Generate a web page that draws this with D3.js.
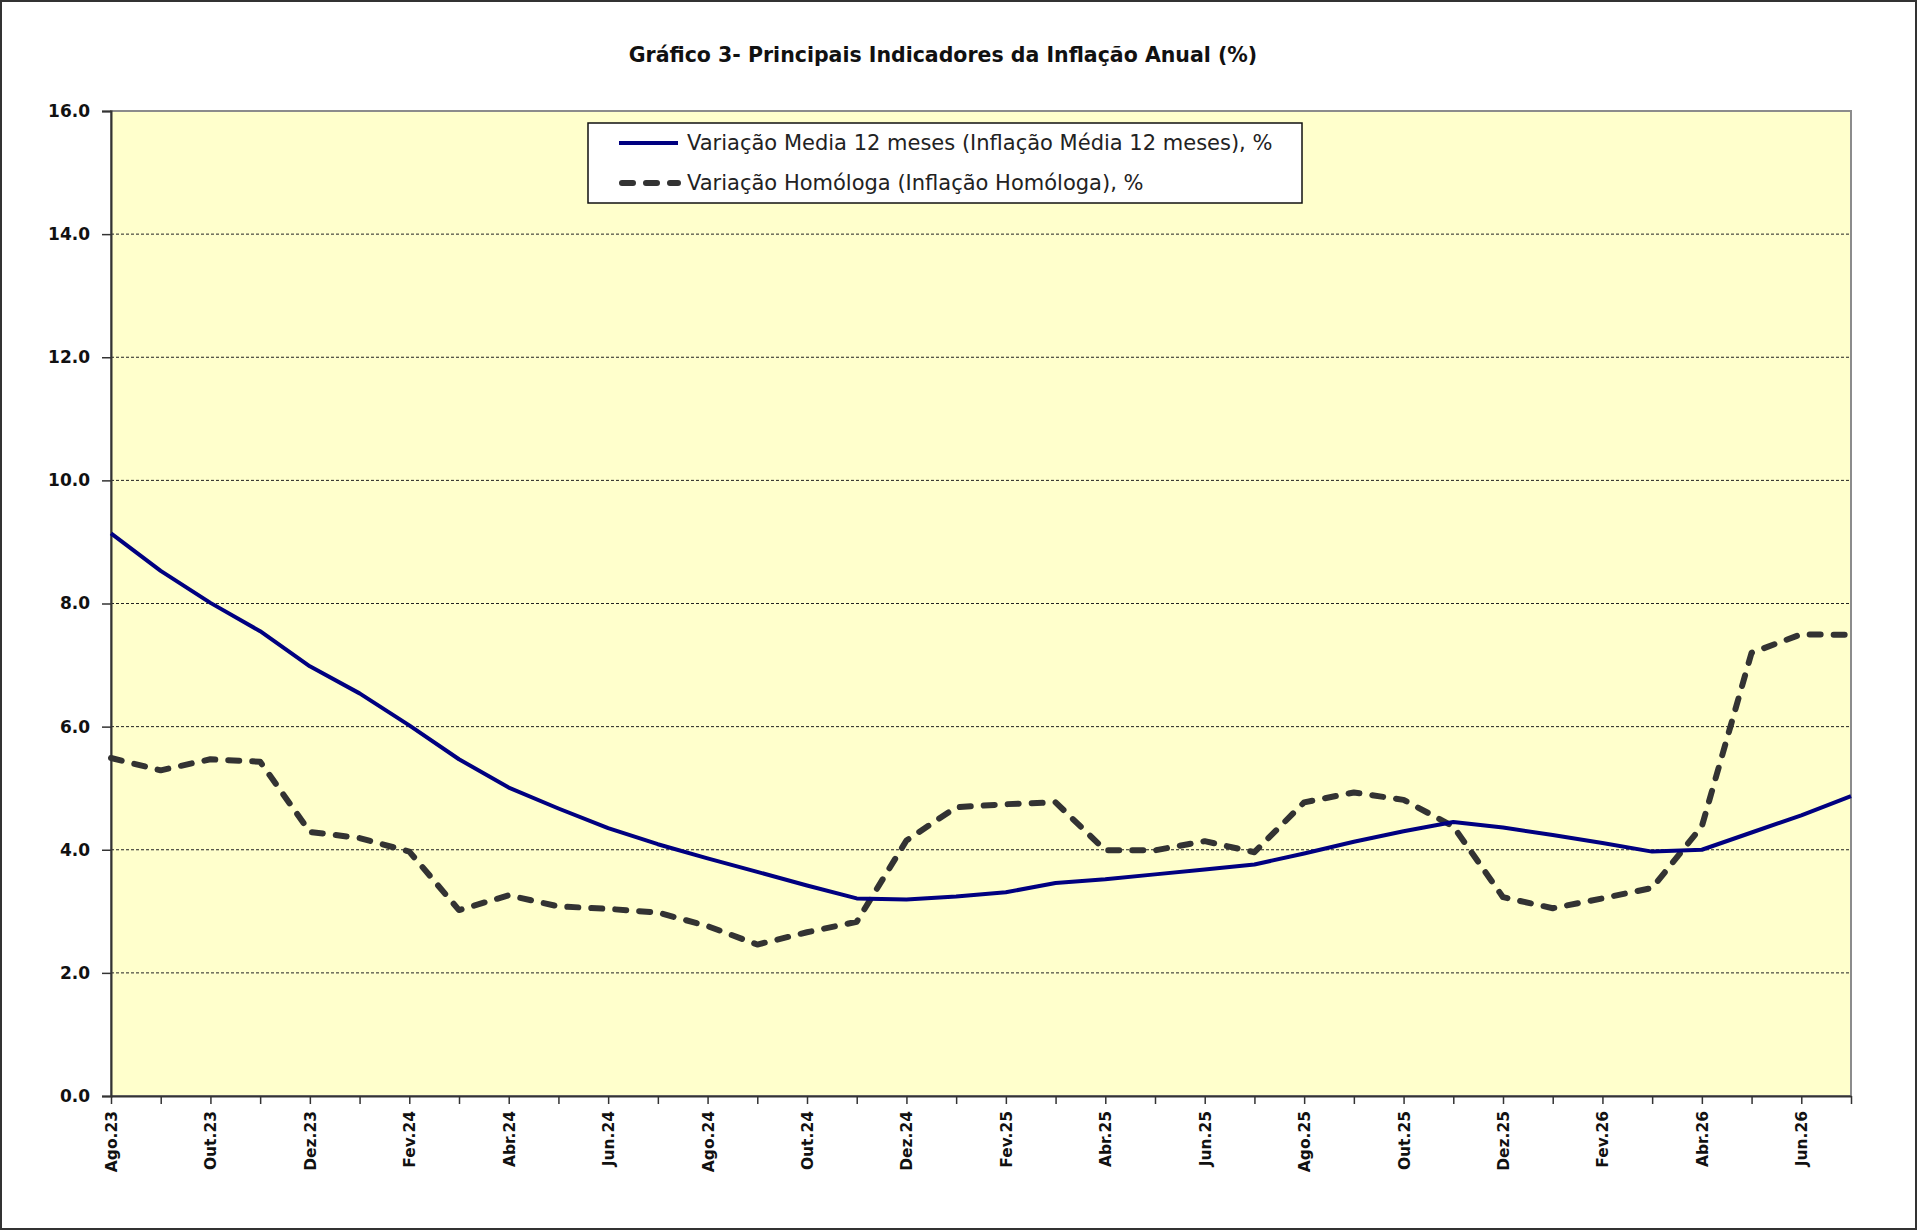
<!DOCTYPE html>
<html>
<head>
<meta charset="utf-8">
<script src="https://cdn.jsdelivr.net/npm/d3@7"></script>
<style>
  body { margin: 0; background: #fff; }
  svg { display: block; }
</style>
</head>
<body>
<svg></svg>
<script>
// data
const months = ['Ago.23','Set.23','Out.23','Nov.23','Dez.23','Jan.24','Fev.24','Mar.24','Abr.24','Mai.24','Jun.24','Jul.24',
  'Ago.24','Set.24','Out.24','Nov.24','Dez.24','Jan.25','Fev.25','Mar.25','Abr.25','Mai.25','Jun.25','Jul.25',
  'Ago.25','Set.25','Out.25','Nov.25','Dez.25','Jan.26','Fev.26','Mar.26','Abr.26','Mai.26','Jun.26','Jul.26']

const mediaValues = [9.14, 8.53, 8.01, 7.55, 6.98, 6.54, 6.02, 5.47, 5.01, 4.67, 4.35, 4.09,
  3.86, 3.64, 3.42, 3.21, 3.19, 3.24, 3.31, 3.46, 3.52, 3.60, 3.68, 3.76,
  3.94, 4.13, 4.30, 4.45, 4.36, 4.24, 4.11, 3.97, 4.00, 4.28, 4.56, 4.87]

const homologaValues = [5.49, 5.29, 5.47, 5.43, 4.29, 4.19, 3.97, 3.02, 3.26, 3.08, 3.04, 2.98,
  2.76, 2.46, 2.66, 2.83, 4.15, 4.69, 4.74, 4.77, 3.99, 3.99, 4.14, 3.96,
  4.77, 4.93, 4.81, 4.38, 3.23, 3.05, 3.21, 3.38, 4.38, 7.20, 7.50, 7.49]

const yTicks = [0, 2, 4, 6, 8, 10, 12, 14, 16]

const seriesNames = ['Variação Media 12 meses (Inflação Média 12 meses), %',
  'Variação Homóloga (Inflação Homóloga), %']

const title = 'Gráfico 3- Principais Indicadores da Inflação Anual (%)'

let w = 1918
let h = 1231
let pLeft = 111, pRight = 1851, pTop = 111, pBottom = 1096

const svg = d3.select('svg')
  .attr('width', w)
  .attr('height', h)

// outer frame
svg.append('rect')
  .attr('x', 1).attr('y', 1)
  .attr('width', w - 3).attr('height', h - 3)
  .attr('fill', '#fff')
  .attr('stroke', '#333')
  .attr('stroke-width', 2)

// title
svg.append('text')
  .attr('x', 943)
  .attr('y', 62)
  .attr('text-anchor', 'middle')
  .attr('font-family', 'DejaVu Sans')
  .attr('font-weight', 'bold')
  .attr('font-size', '20.5px')
  .attr('fill', '#111')
  .text(title)

// Scales
const xScale = d3.scalePoint()
  .domain(months)
  .range([pLeft, pRight])

const yScale = d3.scaleLinear()
  .domain([0, 16])
  .range([pBottom, pTop])

// plot background
svg.append('rect')
  .attr('x', pLeft).attr('y', pTop)
  .attr('width', pRight - pLeft).attr('height', pBottom - pTop)
  .attr('fill', '#ffffcc')
  .attr('stroke', '#8c8c8c')
  .attr('stroke-width', 2)

// gridlines
svg.append('g')
  .selectAll('line')
  .data(yTicks.filter(d => d > 0 && d < 16))
  .enter()
  .append('line')
  .attr('x1', pLeft).attr('x2', pRight)
  .attr('y1', d => yScale(d)).attr('y2', d => yScale(d))
  .attr('stroke', '#222')
  .attr('stroke-width', 1)
  .attr('stroke-dasharray', '3,2')

// Axes
const yAxis = d3.axisLeft(yScale)
  .tickValues(yTicks)
  .tickFormat(d3.format('.1f'))
  .tickSize(9)
  .tickPadding(12)

svg.append('g')
  .attr('transform', 'translate(' + pLeft + ',0)')
  .call(yAxis)
  .call(g => g.select('.domain').attr('stroke', '#333').attr('stroke-width', 2))
  .call(g => g.selectAll('.tick line').attr('stroke', '#333').attr('stroke-width', 1.5))
  .call(g => g.selectAll('text')
    .attr('font-family', 'DejaVu Sans')
    .attr('font-weight', 'bold')
    .attr('font-size', '17px')
    .attr('fill', '#111'))

const xAxis = d3.axisBottom(xScale)
  .tickFormat((d, i) => i % 2 === 0 ? d : '')
  .tickSize(8)
  .tickSizeOuter(0)

svg.append('g')
  .attr('transform', 'translate(0,' + pBottom + ')')
  .call(xAxis)
  .call(g => g.select('.domain').attr('stroke', '#333').attr('stroke-width', 2))
  .call(g => g.selectAll('.tick line').attr('stroke', '#333').attr('stroke-width', 1.5))
  .call(g => g.selectAll('text')
    .attr('font-family', 'DejaVu Sans')
    .attr('font-weight', 'bold')
    .attr('font-size', '15.5px')
    .attr('fill', '#111')
    .attr('text-anchor', 'end')
    .attr('transform', 'rotate(-90)')
    .attr('x', -15)
    .attr('y', 0)
    .attr('dy', '0.35em'))

// Lines
const line = d3.line()
  .x((d, i) => xScale(months[i]))
  .y(d => yScale(d))

svg.append('path')
  .datum(homologaValues)
  .attr('d', line)
  .attr('fill', 'none')
  .attr('stroke', '#333')
  .attr('stroke-width', 6)
  .attr('stroke-dasharray', '11,13')
  .attr('stroke-linecap', 'round')
  .attr('stroke-linejoin', 'round')

svg.append('path')
  .datum(mediaValues)
  .attr('d', line)
  .attr('fill', 'none')
  .attr('stroke', '#000080')
  .attr('stroke-width', 4)
  .attr('stroke-linejoin', 'round')

// Legend
const legend = svg.append('g')
  .attr('transform', 'translate(588,123)')

legend.append('rect')
  .attr('width', 714)
  .attr('height', 80)
  .attr('fill', '#fff')
  .attr('stroke', '#111')
  .attr('stroke-width', 1.5)

const legendStyles = [
  { stroke: '#000080', width: 4, dash: null, cap: 'butt' },
  { stroke: '#333', width: 6, dash: '11,13', cap: 'round' }
]

const rows = legend.selectAll('g.row')
  .data(seriesNames)
  .enter()
  .append('g')
  .attr('class', 'row')
  .attr('transform', (d, i) => 'translate(0,' + (20 + i * 40) + ')')

rows.append('line')
  .attr('x1', (d, i) => i === 0 ? 31 : 34)
  .attr('x2', 90)
  .attr('stroke', (d, i) => legendStyles[i].stroke)
  .attr('stroke-width', (d, i) => legendStyles[i].width)
  .attr('stroke-dasharray', (d, i) => legendStyles[i].dash)
  .attr('stroke-linecap', (d, i) => legendStyles[i].cap)

rows.append('text')
  .attr('x', 99)
  .attr('dy', '0.35em')
  .attr('font-family', 'DejaVu Sans')
  .attr('font-size', '21px')
  .attr('fill', '#222')
  .text(d => d)
</script>
</body>
</html>
